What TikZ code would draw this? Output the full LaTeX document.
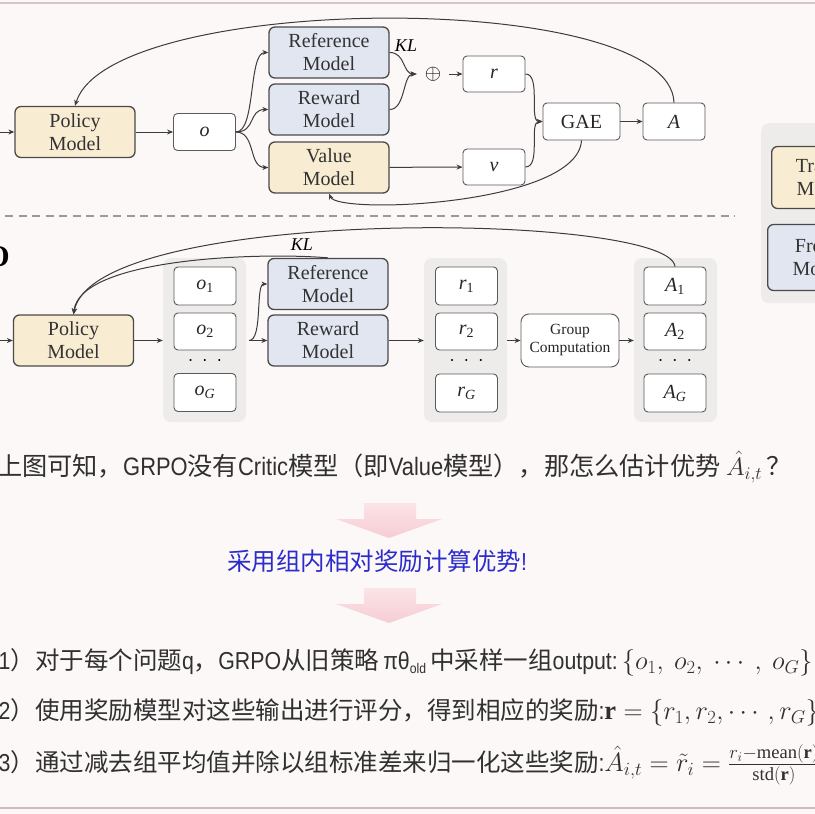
\documentclass[tikz,border=0pt]{standalone}
\usepackage{fix-cm}
\usepackage{fontspec}
\usepackage{amsmath}
\usetikzlibrary{arrows.meta}
\setmainfont{Liberation Serif}
\newfontfamily\cjk{Noto Sans CJK SC}
\newfontfamily\latfont[FakeStretch=0.87]{Liberation Sans}
\newcommand\lat[1]{{\latfont #1}}
\newcommand\vt[2]{\textit{#1}\textsubscript{#2}}
\newcommand\bigmath[1]{{\fontsize{26.5}{29}\selectfont$#1$}}
\newcommand\diagfont{\fontsize{20}{23}\selectfont}
\newcommand\bodyfont{\fontsize{24.5}{29}\selectfont}
\definecolor{bgcol}{HTML}{FCF8F7}
\definecolor{cream}{HTML}{F8EDD2}
\definecolor{bluebox}{HTML}{E1E6F1}
\definecolor{panelgray}{HTML}{EEECEB}
\definecolor{edge}{HTML}{4A4A4A}
\definecolor{boxline}{HTML}{5A5A5A}
\definecolor{wiregray}{HTML}{3C3C3C}
\definecolor{dashgray}{HTML}{9A9A9A}
\definecolor{pinklight}{HTML}{FBE4E7}
\definecolor{pinkarrow}{HTML}{F6CDD4}
\definecolor{bluetext}{HTML}{2C2CCB}
\definecolor{bodytext}{HTML}{303030}

\begin{document}
\begin{tikzpicture}[x=1pt, y=-1pt,
		model/.style={draw=edge, line width=1.3pt, rounded corners=6pt, minimum width=120pt, minimum height=51pt, align=center, inner sep=0pt, text=black!80, font=\diagfont},
		smallbox/.style={draw=boxline, fill=white, line width=0.9pt, rounded corners=4pt, minimum width=62pt, minimum height=37pt, inner sep=0pt, text=black!85, font=\diagfont},
		panel/.style={fill=panelgray, rounded corners=8pt, minimum width=83pt, minimum height=164pt, inner sep=0pt},
		arr/.style={draw=wiregray, line width=1pt, -{Stealth[length=6pt,width=5pt]}},
		steptext/.style={anchor=west, inner sep=0pt, text=bodytext, font=\bodyfont\cjk}]
	\useasboundingbox (0,0) rectangle (815,814);
	\clip (0,0) rectangle (815,814);
	\fill [bgcol] (0,0) rectangle (815,814);
	\draw [line width=1.2pt, color=pinklight!70!gray] (0,3) -- (815,3);
	\draw [line width=2.5pt, color=pinklight!60!gray] (0,808) -- (815,808);

	\node (pol1) [model, fill=cream] at (75,132) {Policy\\Model};
	\node (o) [smallbox] at (204.5,132) {\textit{o}};
	\node (ref1) [model, fill=bluebox] at (329,52.5) {Reference\\Model};
	\node (rew1) [model, fill=bluebox] at (329,109.5) {Reward\\Model};
	\node (val1) [model, fill=cream] at (329,167.5) {Value\\Model};
	\node (kl1) [font=\fontsize{18}{18}\selectfont] at (406,46) {\textit{KL}};
	\node (plus) [inner xsep=8pt, inner ysep=0pt, font=\fontsize{21}{21}\selectfont] at (433,74) {$\oplus$};
	\node (r) [smallbox, minimum height=36pt] at (494,74) {\textit{r}};
	\node (v) [smallbox, minimum height=36pt] at (494,167) {\textit{v}};
	\node (gae) [smallbox, minimum width=77pt] at (581.5,121.5) {GAE};
	\node (A) [smallbox] at (674,121.5) {\textit{A}};
	\coordinate (in1) at (0,132);

	\draw [arr] (in1) -- (pol1);
	\draw [arr] (pol1) -- (o);
	\draw [arr] (o.east) .. controls +(20,0) and +(-20,0) .. (ref1.west);
	\draw [arr] (o.east) .. controls +(20,0) and +(-20,0) .. (rew1.west);
	\draw [arr] (o.east) .. controls +(20,0) and +(-20,0) .. (val1.west);
	\draw [arr] (ref1.east) .. controls +(16,0) and +(-14,0) .. (plus.west);
	\draw [arr] (rew1.east) .. controls +(16,0) and +(-14,0) .. (plus.west);
	\draw [arr] (plus) -- (r);
	\draw [arr] (val1) -- (v);
	\draw [arr] (r.east) .. controls +(16,0) and +(-14,0) .. (gae.west);
	\draw [arr] (v.east) .. controls +(16,0) and +(-14,0) .. (gae.west);
	\draw [arr] (gae) -- (A);
	\draw [arr] (A.north) .. controls (670,-12) and (110,-8) .. (pol1.north);
	\draw [arr] (gae.south) .. controls (578,205) and (338,215) .. (val1.south);

	\draw [dashgray, line width=1.8pt, dash pattern=on 8pt off 5.5pt] (5,216) -- (735,216);

	\node (grpotag) [anchor=east, inner sep=0pt, font=\fontsize{30}{30}\selectfont\bfseries] at (10,257) {O};

	\node (pol2) [model, fill=cream] at (73.5,340.5) {Policy\\Model};
	\node (ogrp) [panel] at (204.5,340) {};
	\node (o1) [smallbox, minimum height=38pt] at (205,286) {\vt{o}{1}};
	\node (o2) [smallbox] at (205,331.5) {\vt{o}{2}};
	\node (odots) [font=\diagfont] at (205,361) {$\cdot\:\cdot\:\cdot$};
	\node (oG) [smallbox, minimum height=38pt] at (205,392.5) {\vt{o}{\textit{G}}};
	\node (ref2) [model, fill=bluebox] at (328,284) {Reference\\Model};
	\node (rew2) [model, fill=bluebox] at (328,340.5) {Reward\\Model};
	\node (kl2) [font=\fontsize{18}{18}\selectfont] at (302,245) {\textit{KL}};
	\node (rgrp) [panel] at (465.5,340) {};
	\node (r1) [smallbox, minimum height=38pt] at (466.5,286) {\vt{r}{1}};
	\node (r2) [smallbox] at (466.5,331.5) {\vt{r}{2}};
	\node (rdots) [font=\diagfont] at (466.5,361) {$\cdot\:\cdot\:\cdot$};
	\node (rG) [smallbox, minimum height=38pt] at (466.5,393) {\vt{r}{\textit{G}}};
	\node (gc) [smallbox, minimum width=98pt, minimum height=53pt, rounded corners=8pt, align=center, font=\fontsize{15.5}{18}\selectfont] at (570,340.5) {Group\\Computation};
	\node (agrp) [panel] at (675.5,340) {};
	\node (A1) [smallbox, minimum height=38pt] at (675,286) {\vt{A}{1}};
	\node (A2) [smallbox] at (675,331.5) {\vt{A}{2}};
	\node (adots) [font=\diagfont] at (675,361) {$\cdot\:\cdot\:\cdot$};
	\node (AG) [smallbox, minimum height=38pt] at (675,393) {\vt{A}{\textit{G}}};
	\coordinate (in2) at (0,340.5);
	\coordinate (split2) at (249,340.5);

	\draw [arr] (in2) -- (pol2);
	\draw [arr] (pol2.east) -- (ogrp.west |- pol2.east);
	\draw [arr] (split2) -- (rew2);
	\draw [arr] (split2) .. controls +(14,0) and +(-12,0) .. (ref2.west);
	\draw [arr] (rew2.east) -- (rgrp.west |- rew2.east);
	\draw [arr] (rgrp.east |- gc.west) -- (gc.west);
	\draw [arr] (gc.east) -- (agrp.west |- gc.east);
	\draw [arr] (A1.north) .. controls (670,212) and (95,205) .. (pol2.north);
	\draw [arr] (ref2.north) .. controls (260,252) and (80,258) .. (pol2.north);

	\node (side) [panel, anchor=north west, minimum width=90pt, minimum height=180pt] at (761,123) {};
	\node (trained) [model, fill=cream, anchor=west, minimum width=110pt, minimum height=62pt] at (771,177.5) {Trained\\Models};
	\node (frozen) [model, fill=bluebox, anchor=west, minimum width=110pt, minimum height=66pt] at (767,257.5) {Frozen\\Models};

	\node (question) [steptext, font=\fontsize{25.2}{29}\selectfont\cjk] at (-3,467) {上图可知，\lat{GRPO}没有\lat{Critic}模型（即\lat{Value}模型），那怎么估计优势 $\hat{A}_{i,t}$\,？};
	\shade [top color=pinklight, bottom color=pinkarrow] (364,503) -- (416,503) -- (416,519) -- (442,519) -- (389,538) -- (336,519) -- (364,519) -- cycle;
	\node (hint) [text=bluetext, font=\bodyfont\cjk] at (377,561) {采用组内相对奖励计算优势\lat{!}};
	\shade [top color=pinklight, bottom color=pinkarrow] (364,588) -- (416,588) -- (416,604) -- (442,604) -- (389,623) -- (336,604) -- (364,604) -- cycle;
	\node (step1) [steptext] at (-26,662) {（\lat{1}）对于每个问题\lat{q}，\lat{GRPO}从旧策略\,\lat{πθ}\raisebox{-4pt}{\fontsize{14}{14}\selectfont\latfont old}\,中采样一组\lat{output:}\,\bigmath{\{o_1,\ o_2,\ \cdots\ ,\ o_G\}}};
	\node (step2) [steptext] at (-26,712) {（\lat{2}）使用奖励模型对这些输出进行评分，得到相应的奖励\lat{:}\bigmath{\mathbf{r} = \{r_1, r_2, \cdots, r_G\}}};
	\node (step3) [steptext] at (-26,765) {（\lat{3}）通过减去组平均值并除以组标准差来归一化这些奖励\lat{:}\bigmath{\hat{A}_{i,t} = \tilde{r}_i = \frac{r_i - \mathrm{mean}(\mathbf{r})}{\mathrm{std}(\mathbf{r})}}};
\end{tikzpicture}
\end{document}
